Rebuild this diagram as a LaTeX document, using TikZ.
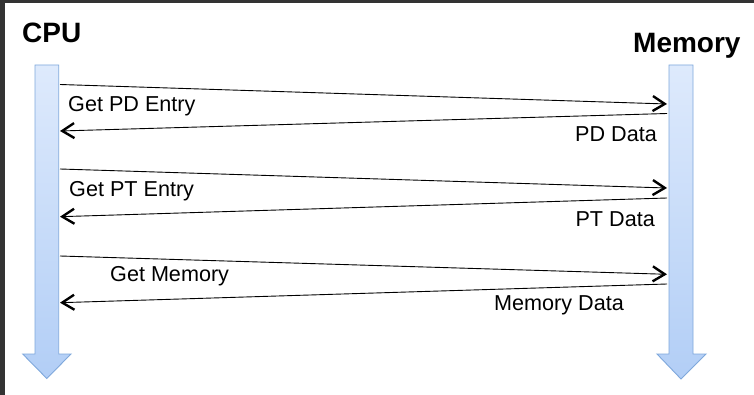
\documentclass[tikz,border=0pt]{standalone}
\usepackage{fontspec}
\setmainfont{Liberation Sans}
\usetikzlibrary{arrows.meta}
\definecolor{frameg}{HTML}{333333}
\definecolor{lifetop}{HTML}{DEEAFC}
\definecolor{lifebot}{HTML}{B2CEF6}
\definecolor{lifeedge}{HTML}{7FA8DC}
\tikzset{
  lifeline/.style={draw=lifeedge, line width=0.9pt, top color=lifetop, bottom color=lifebot},
  msg/.style={black, line width=0.9pt, arrows={-Straight Barb[length=12pt,width=15pt,line width=2.4pt]}},
  lbl/.style={inner sep=0pt, font=\fontsize{21.6}{24}\selectfont},
  title/.style={inner sep=0pt, font=\fontsize{28}{32}\selectfont\bfseries}
}
\begin{document}
\begin{tikzpicture}[x=1pt,y=-1pt]
\useasboundingbox (0,0) rectangle (754,395);
\fill[white] (0,0) rectangle (754,395);
\fill[frameg] (0,0) rectangle (754,3);
\fill[frameg] (0,0) rectangle (5,395);
% titles
\node[title, anchor=base west] (cpu) at (22,43) {CPU};
\node[title, anchor=base west] (mem) at (633,53) {Memory};
% lifelines
\path[lifeline] (35,65) -- (58.7,65) -- (58.7,354) -- (71,354) -- (46.8,378.5) -- (22.7,354) -- (35,354) -- cycle;
\path[lifeline] (669,65) -- (693,65) -- (693,354) -- (706,354) -- (681,379) -- (657,354) -- (669,354) -- cycle;
% message end points
\coordinate (a1) at (60,84.5);  \coordinate (b1) at (667,104);
\coordinate (b2) at (667,113.5); \coordinate (a2) at (60,131);
\coordinate (a3) at (60,169);   \coordinate (b3) at (667,188);
\coordinate (b4) at (667,198);  \coordinate (a4) at (60,216.7);
\coordinate (a5) at (60,256);   \coordinate (b5) at (667,274.3);
\coordinate (b6) at (667,284);  \coordinate (a6) at (60,302.7);
\draw[msg] (a1) -- (b1);
\draw[msg] (b2) -- (a2);
\draw[msg] (a3) -- (b3);
\draw[msg] (b4) -- (a4);
\draw[msg] (a5) -- (b5);
\draw[msg] (b6) -- (a6);
% labels
\node[lbl, anchor=base west] (l1) at (68,111.7) {Get PD Entry};
\node[lbl, anchor=base east] (l2) at (657,141.5) {PD Data};
\node[lbl, anchor=base west] (l3) at (69,196.7) {Get PT Entry};
\node[lbl, anchor=base east] (l4) at (655,226) {PT Data};
\node[lbl, anchor=base west] (l5) at (110,281.5) {Get Memory};
\node[lbl, anchor=base east] (l6) at (624,310.5) {Memory Data};
\end{tikzpicture}
\end{document}
